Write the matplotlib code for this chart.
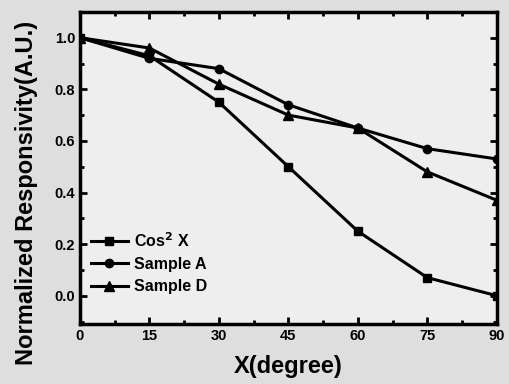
import matplotlib
matplotlib.use('Agg')
import matplotlib.pyplot as plt
from matplotlib.ticker import MultipleLocator

plt.rcParams['font.family'] = ['Liberation Sans', 'DejaVu Sans']
plt.rcParams['font.weight'] = 'bold'

angles = [0, 15, 30, 45, 60, 75, 90]
cos2_x = [1.0, 0.93, 0.75, 0.50, 0.25, 0.07, 0.0]
sample_a = [1.0, 0.92, 0.88, 0.74, 0.65, 0.57, 0.53]
sample_d = [1.0, 0.96, 0.82, 0.70, 0.65, 0.48, 0.37]

fig = plt.figure(figsize=(5.09, 3.84), dpi=100)
fig.patch.set_facecolor('#dedede')
ax = fig.add_axes([0.157, 0.156, 0.819, 0.813])
ax.set_facecolor('#eeeeee')

ax.plot(angles, cos2_x, color='black', lw=2.2, marker='s', ms=6, label='Cos$^2$ X')
ax.plot(angles, sample_a, color='black', lw=2.2, marker='o', ms=6, label='Sample A')
ax.plot(angles, sample_d, color='black', lw=2.2, marker='^', ms=7, label='Sample D')

ax.set_xlim(0, 90)
ax.set_ylim(-0.11, 1.1)
ax.xaxis.set_major_locator(MultipleLocator(15))
ax.xaxis.set_minor_locator(MultipleLocator(7.5))
ax.yaxis.set_minor_locator(MultipleLocator(0.1))
ax.set_yticks([0.0, 0.2, 0.4, 0.6, 0.8, 1.0])
ax.set_yticklabels(['0.0', '0.2', '0.4', '0.6', '0.8', '1.0'])
ax.tick_params(which='both', direction='in', top=True, right=True, width=2)
ax.tick_params(which='major', length=5, labelsize=10.5)
ax.tick_params(which='minor', length=3)
for s in ax.spines.values():
    s.set_linewidth(2.5)

ax.set_xlabel('X(degree)', fontsize=17, fontweight='bold', labelpad=9)
ax.set_ylabel('Normalized Responsivity(A.U.)', fontsize=17, fontweight='bold', labelpad=4)
ax.yaxis.set_label_coords(-0.1, 0.42)

leg = ax.legend(loc='lower left', bbox_to_anchor=(0.0, 0.06), frameon=False,
                fontsize=11.5, handlelength=2.3, labelspacing=0.45, borderaxespad=0.3,
                handletextpad=0.4)

fig.savefig('out.png', dpi=100, facecolor=fig.get_facecolor())
